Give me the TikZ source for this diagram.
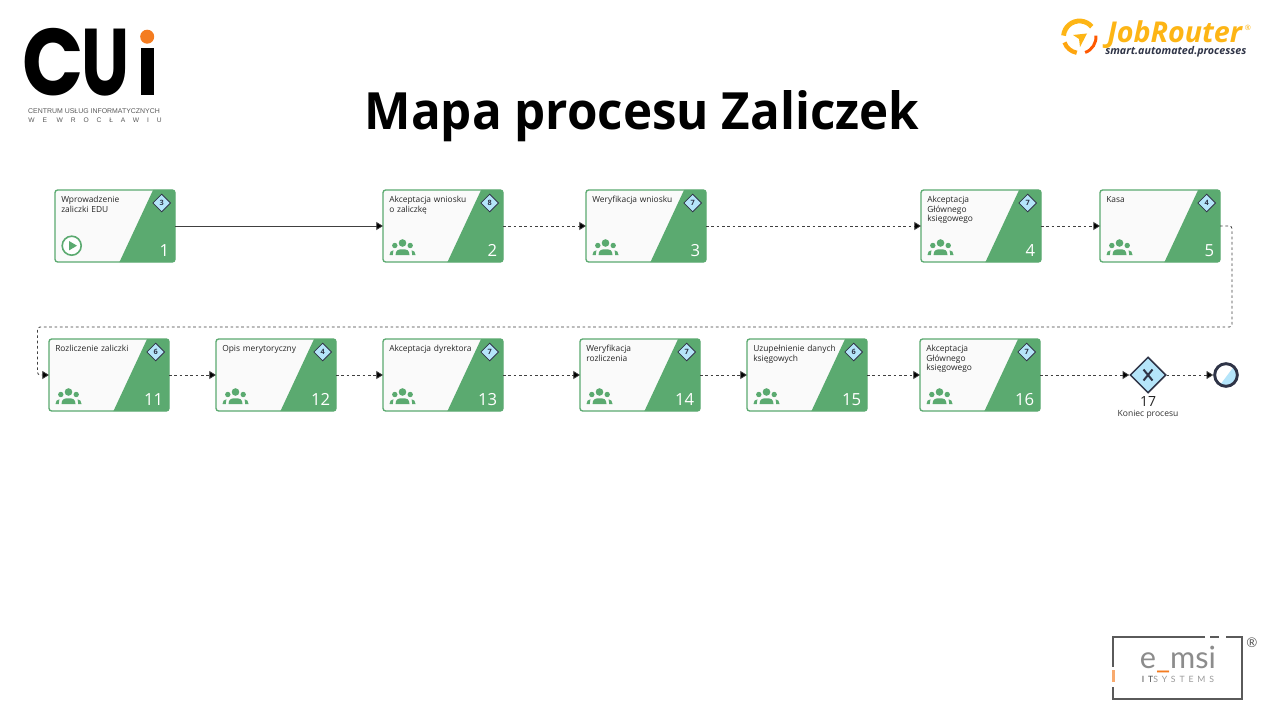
\documentclass[tikz,border=0pt]{standalone}
\usepackage{fontspec}
\setmainfont{Open Sans}
\newfontfamily\titlef[FakeStretch=0.96]{Open Sans}
\newfontfamily\pop[FakeStretch=0.72]{Poppins}
\newfontfamily\popc[FakeStretch=0.85]{Poppins}
\newfontfamily\lat{Lato}
\newfontfamily\latsp[LetterSpace=45]{Lato}
\newfontfamily\lib{Liberation Sans}
\newfontfamily\libsp[LetterSpace=118]{Liberation Sans}
\usetikzlibrary{arrows.meta,shapes.geometric}
\definecolor{tgreen}{HTML}{5BAA70}
\definecolor{tpale}{HTML}{FAFAFA}
\definecolor{tblue}{HTML}{B5E5FA}
\definecolor{tdark}{HTML}{2F3447}
\definecolor{jr}{HTML}{FDB515}
\definecolor{cuorange}{HTML}{F47C20}
\definecolor{emgray}{HTML}{5A5A5A}
\tikzset{
 x=0.75pt,y=-0.75pt,
 taskbox/.style={draw=tgreen,line width=1pt,fill=tpale,rounded corners=2pt,minimum width=90pt,minimum height=54pt,inner sep=0pt,outer sep=0pt,anchor=north west},
 tasktitle/.style={font=\fontsize{6.3}{7.1}\selectfont,text=black!85,align=left,anchor=north west,inner sep=0pt,text width=70pt},
 tasknum/.style={font=\fontsize{12.5}{12.5}\selectfont,text=white,anchor=south east,inner sep=0pt},
 badge/.style={diamond,draw=tdark,line width=.6pt,fill=tblue,minimum width=13.5pt,minimum height=13.5pt,inner sep=0pt,font=\fontsize{5.5}{5.5}\selectfont\bfseries,text=tdark},
 flowsolid/.style={draw=black!75,line width=.6pt,-{Triangle[length=5pt,width=6pt,fill=black]}},
 flowdash/.style={draw=black!75,line width=.6pt,dash pattern=on 2pt off 2pt,-{Triangle[length=5pt,width=6pt,fill=black]}},
}
% #1 name, #2 x, #3 y, #4 title, #5 number, #6 badge, #7 icon
\newcommand{\tasknode}[7]{%
 \node[taskbox,path picture={\fill[tgreen] (39,-38)--(62,-38)--(62,38)--(4,38)--(4,37)--cycle;}] (#1) at (#2,#3) {};
 \node[tasktitle] (#1t) at (#2+6,#3+6) {#4};
 \node[tasknum] (#1n) at (#2+114.5,#3+67) {#5};
 \node[badge] (#1b) at (#2+106.7,#3+13) {#6};
 #7{#2}{#3}
}
\newcommand{\peopleicon}[2]{%
 \begin{scope}[shift={(#1,#2)}]
 \fill[tgreen] (19.5,53) circle (3.8);
 \fill[tgreen] (11.8,55.5) circle (2.7);
 \fill[tgreen] (27.2,55.5) circle (2.7);
 \fill[tgreen] (12.5,65) .. controls (12.8,60) and (15,59.3) .. (19.5,59.3) .. controls (24,59.3) and (26.2,60) .. (26.5,65) -- cycle;
 \fill[tgreen] (6.5,65) .. controls (6.5,62) and (8,60.5) .. (10.5,60.3) .. controls (10.1,61.5) and (9.9,63) .. (9.9,65) -- cycle;
 \fill[tgreen] (32.5,65) .. controls (32.5,62) and (31,60.5) .. (28.5,60.3) .. controls (28.9,61.5) and (29.1,63) .. (29.1,65) -- cycle;
 \end{scope}
}
\newcommand{\starticon}[2]{%
 \begin{scope}[shift={(#1,#2)}]
 \draw[tgreen,line width=1.2pt,fill=white] (16.7,55.7) circle (9.5);
 \fill[tgreen] (14,51)--(22,55.7)--(14,60.4)--cycle;
 \end{scope}
}
\begin{document}
\begin{tikzpicture}
\useasboundingbox (0,0) rectangle (1280,720);
\fill[white] (0,0) rectangle (1280,720);
% title
\node[font=\titlef\bfseries\fontsize{38.5}{38.5}\selectfont,text=black,inner sep=0pt,anchor=base] (title) at (642,130) {Mapa procesu Zaliczek};
% CUi logo
\node[font=\popc\bfseries\fontsize{71}{71}\selectfont,inner sep=0pt,anchor=base west,text=black] (logoc) at (22,96) {C};
\node[font=\pop\bfseries\fontsize{71}{71}\selectfont,inner sep=0pt,anchor=base west,text=black] (logou) at (81,96) {U};
\fill[black] (140.7,48) rectangle (154,95);
\fill[cuorange] (147.2,36.7) circle (7);
\node[font=\lib\fontsize{5.2}{5.2}\selectfont,text=black!65,inner sep=0pt] (logol1) at (94,111) {CENTRUM USŁUG INFORMATYCZNYCH};
\node[font=\libsp\fontsize{5}{5}\selectfont,text=black!65,inner sep=0pt] (logol2) at (95,120.5) {WE WROCŁAWIU};
% JobRouter logo
\draw[jr,line width=3.6pt] (1079.5,37) ++(-175:16) arc (-175:-40:16);
\draw[jr!70!orange,line width=3.2pt] (1079.5,37) ++(160:16) arc (160:100:16);
\draw[orange!70!red,line width=2.2pt] (1079.5,37) ++(70:16.5) arc (70:-5:16.5);
\fill[jr] (1073,35)--(1087,33.5)--(1080,47)--(1079,39)--cycle;
\node[font=\itshape\bfseries\fontsize{21.5}{21.5}\selectfont,text=jr,inner sep=0pt,anchor=base west] (jobr) at (1107,42.5) {JobRouter};
\node[font=\fontsize{5.5}{5.5}\selectfont,text=jr,inner sep=0pt] (jobreg) at (1248,28) {®};
\node[font=\itshape\bfseries\fontsize{8}{8}\selectfont,text=tdark,inner sep=0pt,anchor=base west] (jobs) at (1105,54.5) {smart.automated.processes};
% e_msi logo
\draw[emgray,line width=.8pt] (1205,637) -- (1113,637) -- (1113,667);
\draw[emgray,line width=.8pt] (1113,687) -- (1113,699) -- (1242,699) -- (1242,637) -- (1226,637);
\draw[emgray,line width=.8pt] (1210,637) -- (1219,637);
\fill[cuorange!65] (1112,670) rectangle (1114.5,682);
\node[font=\lat\fontsize{23}{23}\selectfont,text=black!45,inner sep=0pt] (emsi) at (1178,659) {e\textcolor{cuorange}{\_}msi};
\node[font=\latsp\fontsize{6.5}{6.5}\selectfont,text=black!40,inner sep=0pt] (emsub) at (1178,679) {\textcolor{black!70}{IT}SYSTEMS};
\node[font=\lat\fontsize{10}{10}\selectfont,text=emgray,inner sep=0pt] (emreg) at (1252,643) {®};
% tasks
\tasknode{t1}{55}{190}{Wprowadzenie\\zaliczki EDU}{1}{3}{\starticon}
\tasknode{t2}{383}{190}{Akceptacja wniosku\\o zaliczkę}{2}{8}{\peopleicon}
\tasknode{t3}{586}{190}{Weryfikacja wniosku}{3}{7}{\peopleicon}
\tasknode{t4}{921}{190}{Akceptacja\\Głównego\\księgowego}{4}{7}{\peopleicon}
\tasknode{t5}{1100}{190}{Kasa}{5}{4}{\peopleicon}
\tasknode{t11}{49}{339}{Rozliczenie zaliczki}{11}{6}{\peopleicon}
\tasknode{t12}{216}{339}{Opis merytoryczny}{12}{4}{\peopleicon}
\tasknode{t13}{383}{339}{Akceptacja dyrektora}{13}{7}{\peopleicon}
\tasknode{t14}{580}{339}{Weryfikacja\\rozliczenia}{14}{7}{\peopleicon}
\tasknode{t15}{747}{339}{Uzupełnienie danych\\księgowych}{15}{6}{\peopleicon}
\tasknode{t16}{920}{339}{Akceptacja\\Głównego\\księgowego}{16}{7}{\peopleicon}
% gateway
\node[diamond,draw=tdark,line width=1.1pt,fill=tblue,minimum width=27pt,minimum height=27pt,inner sep=0pt] (gw) at (1148,375) {};
\draw[tdark,line width=1.5pt] (1143.5,369.5) -- (1152.5,380.5) (1152.5,369.5) -- (1143.5,380.5);
\node[font=\fontsize{10.5}{10.5}\selectfont,text=black!85,inner sep=0pt] (gwn) at (1148,402) {17};
\node[font=\fontsize{6.4}{6.4}\selectfont,text=black!80,inner sep=0pt] (gwl) at (1148,414.5) {Koniec procesu};
% end event
\node[circle,draw=tdark,line width=2.2pt,fill=white,minimum size=17pt,inner sep=0pt,path picture={\fill[tblue] (9,-10)--(14,14)--(-9,14)--cycle;}] (ev) at (1226,375) {};
% connectors
\draw[flowsolid] (t1.east) -- (t2.west);
\draw[flowdash] (t2.east) -- (t3.west);
\draw[flowdash] (t3.east) -- (t4.west);
\draw[flowdash] (t4.east) -- (t5.west);
\coordinate (r1) at (1232,226);
\coordinate (r2) at (1232,327);
\coordinate (r3) at (37.5,327);
\coordinate (r4) at (37.5,375);
\draw[flowdash,rounded corners=2pt] (t5.east) -- (r1) -- (r2) -- (r3) -- (r4) -- (t11.west);
\draw[flowdash] (t11.east) -- (t12.west);
\draw[flowdash] (t12.east) -- (t13.west);
\draw[flowdash] (t13.east) -- (t14.west);
\draw[flowdash] (t14.east) -- (t15.west);
\draw[flowdash] (t15.east) -- (t16.west);
\draw[flowdash] (t16.east) -- (gw.west);
\draw[flowdash] (gw.east) -- (ev.west);
\end{tikzpicture}
\end{document}
